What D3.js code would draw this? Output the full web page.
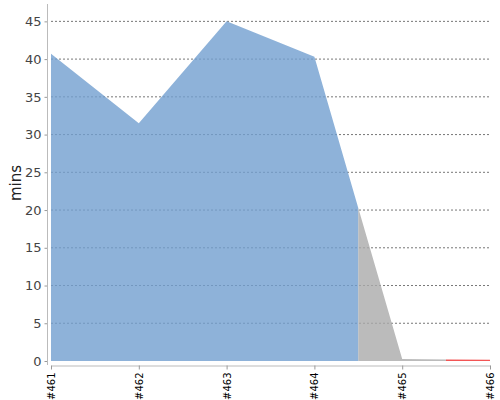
<!DOCTYPE html>
<html>
<head>
<meta charset="utf-8">
<script src="https://cdn.jsdelivr.net/npm/d3@7"></script>
<style>
 body { margin: 0; background: #fff; }
 text { font-family: "DejaVu Sans", sans-serif; }
</style>
</head>
<body>
<div id="chart"></div>
<script>
// chart data
var builds = ["#461", "#462", "#463", "#464", "#465", "#466"];
var durations = [40.7, 31.5, 45.0, 40.3, 0.25, 0.15];
var statuses = ["success", "success", "success", "success", "aborted", "failure"];
var yTicks = [0, 5, 10, 15, 20, 25, 30, 35, 40, 45];

var statusColor = {
 success: "#729fcf",
 aborted: "#aaaaaa",
 failure: "#ef2929"
};

//svg dimensions
var svgWidth = 500;
var svgHeight = 400;

var svg = d3.select("#chart")
 .append("svg")
 .attr("width", svgWidth)
 .attr("height", svgHeight);

// scales
var xScale = d3.scalePoint()
 .domain(builds)
 .range([51, 490]);

var yScale = d3.scaleLinear()
 .domain([0, 47.3])
 .range([361, 4]);

// dashed gridlines
svg.append("g")
 .selectAll("line")
 .data(yTicks.filter(d => d > 0))
 .enter()
 .append("line")
 .attr("x1", 51)
 .attr("x2", 490)
 .attr("y1", d => yScale(d))
 .attr("y2", d => yScale(d))
 .attr("stroke", "#777")
 .attr("stroke-width", 1)
 .attr("stroke-dasharray", "2,2");

// the area, coloured per build status (each build owns half an interval on each side)
var data = builds.map((b, i) => ({ build: b, value: durations[i], status: statuses[i] }));

var area = d3.area()
 .x(d => xScale(d.build))
 .y0(yScale(0))
 .y1(d => yScale(d.value));

// group consecutive builds with the same status
var runs = [];
data.forEach(function(d, i) {
 var last = runs[runs.length - 1];
 if (last && last.status == d.status) last.end = i;
 else runs.push({ status: d.status, start: i, end: i });
});

function edge(i, side) {
 var x = xScale(builds[i]);
 var n = builds[i + side];
 if (n === undefined) return x;
 return (x + xScale(n)) / 2;
}

var defs = svg.append("defs");
runs.forEach(function(r, k) {
 var x0 = edge(r.start, -1);
 var x1 = edge(r.end, 1);
 defs.append("clipPath")
   .attr("id", "clip" + k)
   .append("rect")
   .attr("x", x0)
   .attr("y", 0)
   .attr("width", x1 - x0)
   .attr("height", svgHeight);

 svg.append("path")
   .datum(data)
   .attr("d", area)
   .attr("clip-path", "url(#clip" + k + ")")
   .attr("fill", statusColor[r.status])
   .attr("fill-opacity", 0.8);
});

// y axis
var leftAxis = d3.axisLeft(yScale)
 .tickValues(yTicks)
 .tickSize(3)
 .tickPadding(3)
 .tickSizeOuter(0);

var yAxis = svg.append("g")
 .attr("transform", "translate(47.5,0)")
 .call(leftAxis);
yAxis.select(".domain").remove();
yAxis.selectAll("line").attr("stroke", "#999");
yAxis.selectAll("text")
 .attr("fill", "#444")
 .style("font-size", "13px");

svg.append("line")
 .attr("x1", 47.5)
 .attr("x2", 47.5)
 .attr("y1", 4)
 .attr("y2", 365)
 .attr("stroke", "#bbb");

// x axis
var bottomAxis = d3.axisBottom(xScale)
 .tickSize(4)
 .tickSizeOuter(0);

var xAxis = svg.append("g")
 .attr("transform", "translate(0,365.5)")
 .call(bottomAxis);
xAxis.select(".domain").attr("stroke", "#bbb");
xAxis.selectAll("line").attr("stroke", "#999");
xAxis.selectAll("text")
 .attr("transform", "rotate(-90)")
 .attr("x", -7)
 .attr("y", 0)
 .attr("dy", "0.35em")
 .attr("text-anchor", "end")
 .attr("fill", "#000")
 .style("font-size", "10px");

// axis label
svg.append("text")
 .attr("transform", "translate(20.5,183) rotate(-90)")
 .attr("text-anchor", "middle")
 .attr("fill", "#222")
 .style("font-size", "15px")
 .text("mins");
</script>
</body>
</html>
